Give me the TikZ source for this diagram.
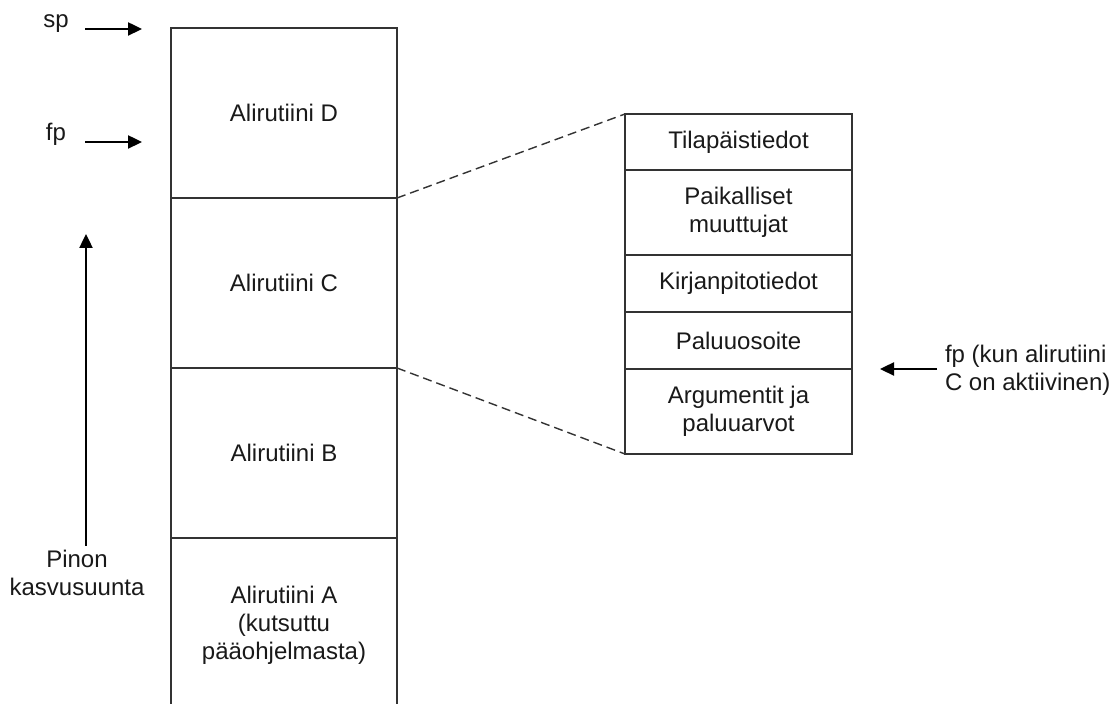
\documentclass[tikz,border=0pt]{standalone}
\usepackage{fontspec}
\setmainfont{Liberation Sans}
\usetikzlibrary{arrows.meta}
\begin{document}
\begin{tikzpicture}[x=0.5pt,y=-0.5pt,
  cell/.style={draw=black!80, line width=0.85pt, inner sep=0pt, outer sep=0pt, minimum width=113pt, align=center, font=\fontsize{12}{14}\selectfont, text=black!90},
  rcell/.style={cell, minimum width=113.5pt},
  lbl/.style={inner sep=0pt, outer sep=0pt, font=\fontsize{12}{14}\selectfont, text=black!90},
  ptr/.style={draw=black, line width=1.2pt, -{Triangle[length=7pt,width=6.5pt]}},
  zoomline/.style={draw=black!80, line width=0.7pt, dash pattern=on 4.5pt off 2.5pt}]
\useasboundingbox (0,0) rectangle (1118,704);

% main stack
\node[cell, minimum height=85pt] (D) at (284,113) {Alirutiini D};
\node[cell, minimum height=85pt] (C) at (284,283) {Alirutiini C};
\node[cell, minimum height=85pt] (B) at (284,453) {Alirutiini B};
\node[cell, minimum height=87pt] (A) at (284,625) {Alirutiini A\\(kutsuttu\\pääohjelmasta)};

% expanded frame
\node[rcell, minimum height=28pt]   (T) at (738.5,142)   {Tilapäistiedot};
\node[rcell, minimum height=42.5pt] (P) at (738.5,212.5) {Paikalliset\\muuttujat};
\node[rcell, minimum height=28.5pt] (K) at (738.5,283.5) {Kirjanpitotiedot};
\node[rcell, minimum height=28.5pt] (R) at (738.5,340.5) {Paluuosoite};
\node[rcell, minimum height=42.5pt] (G) at (738.5,411.5) {Argumentit ja\\paluuarvot};

\draw[zoomline] (D.south east) -- (T.north west);
\draw[zoomline] (C.south east) -- (G.south west);

% pointers
\node[lbl, anchor=base] (splbl) at (56,28) {sp};
\coordinate (sps) at (85,29);
\coordinate (spe) at (142,29);
\draw[ptr] (sps) -- (spe);

\node[lbl, anchor=base] (fplbl) at (56,141) {fp};
\coordinate (fps) at (85,142);
\coordinate (fpe) at (142,142);
\draw[ptr] (fps) -- (fpe);

\coordinate (gs) at (86,546);
\coordinate (ge) at (86,234);
\draw[ptr] (gs) -- (ge);
\node[lbl, align=center, anchor=base] (grow) at (77,596) {Pinon\\kasvusuunta};

\node[lbl, align=left, anchor=west] (fpc) at (945,370) {fp (kun alirutiini\\C on aktiivinen)};
\coordinate (fcs) at (937,369);
\coordinate (fce) at (880,369);
\draw[ptr] (fcs) -- (fce);
\end{tikzpicture}
\end{document}
